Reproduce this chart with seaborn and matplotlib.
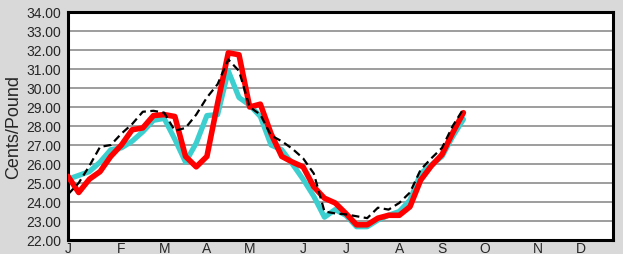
import numpy as np
import pandas as pd
import matplotlib
matplotlib.use("Agg")
import matplotlib.pyplot as plt
import seaborn as sns

# weekly prices, week 0 = first week of January
weeks = list(range(38))
cyan_vals = [25.2, 25.4, 25.6, 26.1, 26.75, 26.85, 27.2, 27.7, 28.3, 28.4,
             27.3, 26.1, 27.1, 28.55, 28.6, 30.9, 29.5, 29.1, 28.5, 27.0,
             26.75, 26.0, 25.2, 24.3, 23.2, 23.6, 23.3, 22.7, 22.7, 23.05,
             23.3, 23.5, 24.1, 25.5, 25.95, 26.4, 27.45, 28.35]
red_vals = [25.35, 24.5, 25.2, 25.6, 26.4, 27.0, 27.8, 27.9, 28.55, 28.6,
            28.5, 26.4, 25.85, 26.4, 29.2, 31.85, 31.75, 29.0, 29.15, 27.6,
            26.4, 26.1, 25.85, 24.8, 24.2, 23.95, 23.4, 22.8, 22.8, 23.15,
            23.3, 23.3, 23.75, 25.15, 25.9, 26.5, 27.65, 28.7]
black_vals = [24.4, 25.0, 25.9, 26.9, 27.0, 27.6, 28.1, 28.75, 28.8, 28.7,
              27.75, 27.9, 28.6, 29.5, 30.2, 31.5, 30.9, 29.0, 28.6, 27.5,
              27.2, 26.8, 26.3, 25.5, 23.5, 23.4, 23.35, 23.25, 23.15, 23.7,
              23.6, 23.95, 24.5, 25.7, 26.3, 26.85, 28.0, 28.9]

month_labels = ['J', 'F', 'M', 'A', 'M', 'J', 'J', 'A', 'S', 'O', 'N', 'D']
month_weeks = [0, 5, 9, 13, 17, 22, 26, 31, 35, 39, 44, 48]
y_ticks = np.arange(22, 35, 1)

df = pd.DataFrame({'week': weeks, 'cyan': cyan_vals, 'red': red_vals, 'black': black_vals})

sns.set_style("white")
plt.rcParams['font.family'] = ['Liberation Sans', 'DejaVu Sans']

fig = plt.figure(figsize=(6.23, 2.55), dpi=100, facecolor='#d9d9d9')
ax = fig.add_axes([68/623, 14/255, 545/623, 228/255])
ax.set_facecolor('white')

for y in y_ticks[1:-1]:
    ax.axhline(y, color='#8c8c8c', lw=1.2, zorder=0)

sns.lineplot(data=df, x='week', y='cyan', ax=ax, color='#3ccfcf', lw=3.8,
             solid_capstyle='round', solid_joinstyle='round', zorder=2)
sns.lineplot(data=df, x='week', y='red', ax=ax, color='#ff0000', lw=4.0,
             solid_capstyle='round', solid_joinstyle='round', zorder=3)
sns.lineplot(data=df, x='week', y='black', ax=ax, color='black', lw=1.6,
             dashes=(3.5, 2), zorder=4)

ax.set_xlim(0, 51)
ax.set_ylim(22, 34)
ax.set_yticks(y_ticks)
ax.set_yticklabels(['%.2f' % v for v in y_ticks], fontsize=10)
ax.set_xticks(month_weeks)
ax.set_xticklabels(month_labels, fontsize=10)
ax.tick_params(length=0, pad=1)
ax.tick_params(axis='y', pad=5)
ax.set_xlabel('')
ax.set_ylabel('Cents/Pound', fontsize=13, labelpad=3)

for s in ax.spines.values():
    s.set_visible(True)
    s.set_color('black')
    s.set_linewidth(2.2)

fig.savefig('out.png', dpi=100, facecolor=fig.get_facecolor())
